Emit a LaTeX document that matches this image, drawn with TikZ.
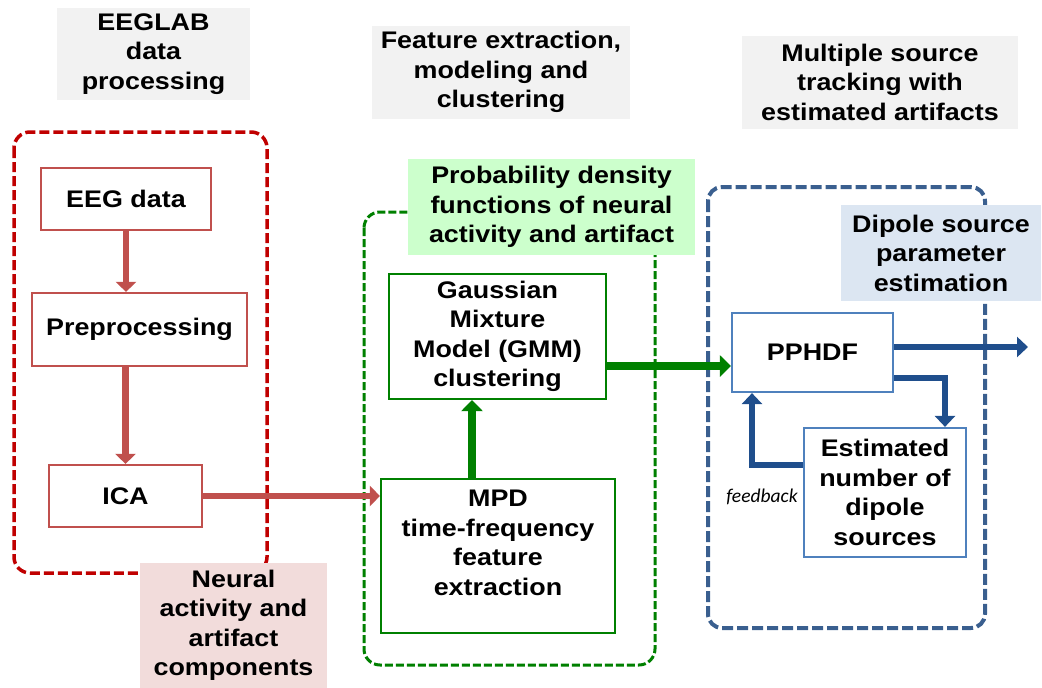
\documentclass[tikz,border=0pt]{standalone}
\usepackage{fontspec}
\setmainfont{Liberation Sans}[FakeStretch=1.12]
\newfontfamily\fbfont{Carlito}
\usetikzlibrary{arrows.meta}
\definecolor{boxred}{HTML}{C0504D}
\definecolor{contred}{HTML}{C00000}
\definecolor{grn}{HTML}{008000}
\definecolor{grnfill}{HTML}{CCFFCC}
\definecolor{pinkfill}{HTML}{F2DCDB}
\definecolor{grayfill}{HTML}{F2F2F2}
\definecolor{bluefill}{HTML}{DCE6F2}
\definecolor{boxblue}{HTML}{4F81BD}
\definecolor{arrblue}{HTML}{1F4E8C}
\definecolor{contblue}{HTML}{3A5F8F}
\tikzset{
  txt/.style={font=\fontsize{24}{29.5}\selectfont\bfseries, align=center, text=black},
  labelbox/.style={txt, inner sep=0pt, draw=none},
  redbox/.style={txt, draw=boxred, line width=2.2pt, fill=white, inner sep=0pt},
  greenbox/.style={txt, draw=grn, line width=2.2pt, fill=white, inner sep=0pt},
  bluebox/.style={txt, draw=boxblue, line width=2.2pt, fill=white, inner sep=0pt},
  redarrow/.style={draw=boxred, line width=6.5pt, -{Triangle[length=10pt,width=20pt]}},
  greenarrow/.style={draw=grn, line width=7.5pt, -{Triangle[length=11pt,width=21pt]}},
  bluearrow/.style={draw=arrblue, line width=6.5pt, -{Triangle[length=11pt,width=20pt]}},
  redcont/.style={draw=contred, line width=3.5pt, dash pattern=on 10pt off 4pt, rounded corners=16pt},
  greencont/.style={draw=grn, line width=3pt, dash pattern=on 8pt off 3pt, rounded corners=16pt},
  bluecont/.style={draw=contblue, line width=4pt, dash pattern=on 11pt off 4pt, rounded corners=14pt}
}
\begin{document}
\begin{tikzpicture}[x=1pt,y=-1pt]
\useasboundingbox (0,0) rectangle (1042,688);
% containers
\draw[redcont] (14,132) rectangle (267,573);
\draw[greencont] (364,212) rectangle (655,665);
\draw[bluecont] (708,187) rectangle (985,628);
% header labels
\node[labelbox, fill=grayfill, minimum width=193pt, minimum height=92pt] (hdA) at (153.5,54) {EEGLAB\\data\\processing};
\node[labelbox, fill=grayfill, minimum width=258pt, minimum height=93pt] (hdB) at (501,72) {Feature extraction,\\modeling and\\clustering};
\node[labelbox, fill=grayfill, minimum width=276pt, minimum height=93pt] (hdC) at (880,82) {Multiple source\\tracking with\\estimated artifacts};
\node[labelbox, fill=pinkfill, minimum width=187pt, minimum height=126pt] (neur) at (233.5,625.5) {Neural\\activity and\\artifact\\components};
\node[labelbox, fill=grnfill, minimum width=287pt, minimum height=96pt] (pdf) at (551.5,207) {Probability density\\functions of neural\\activity and artifact};
\node[labelbox, fill=bluefill, minimum width=200pt, minimum height=96pt] (dip) at (941,253) {Dipole source\\parameter\\estimation};
% boxes
\node[redbox, minimum width=170pt, minimum height=62pt] (eeg) at (126,199) {EEG data};
\node[redbox, minimum width=215pt, minimum height=73pt] (pre) at (139.5,329.5) {Preprocessing};
\node[redbox, minimum width=153pt, minimum height=62pt] (ica) at (125.5,496) {ICA};
\node[greenbox, minimum width=217pt, minimum height=125pt] (gmm) at (497.5,336.5) {Gaussian\\Mixture\\Model (GMM)\\clustering};
\node[greenbox, minimum width=234pt, minimum height=154pt] (mpd) at (498,556) {};
\node[labelbox] (mpdT) at (498,543) {MPD\\time-frequency\\feature\\extraction};
\node[bluebox, minimum width=161pt, minimum height=79pt] (pph) at (812.5,352.5) {PPHDF};
\node[bluebox, minimum width=162pt, minimum height=129pt] (est) at (885,492.5) {Estimated\\number of\\dipole\\sources};
\node[font=\fbfont\itshape\fontsize{19.5}{22}\selectfont, inner sep=0pt] (fb) at (762,497) {feedback};
% connectors
\draw[redarrow] (eeg.south) -- (eeg.south |- pre.north);
\draw[redarrow] (pre.south -| ica.north) -- (ica.north);
\draw[redarrow] (ica.east) -- (ica.east -| mpd.west);
\draw[greenarrow] ([xshift=-26pt]mpd.north) -- ([xshift=-26pt]mpd.north |- gmm.south);
\coordinate (g1) at (606,366);
\draw[greenarrow] (g1 -| gmm.east) -- (g1 -| pph.west);
\coordinate (out) at (1028,347);
\draw[bluearrow] (out -| pph.east) -- (out);
\coordinate (c1) at (945,378);
\draw[bluearrow] (c1 -| pph.east) -| (est.north -| c1);
\coordinate (c2) at (752,465);
\draw[bluearrow] (c2 -| est.west) -| (pph.south -| c2);
\end{tikzpicture}
\end{document}
